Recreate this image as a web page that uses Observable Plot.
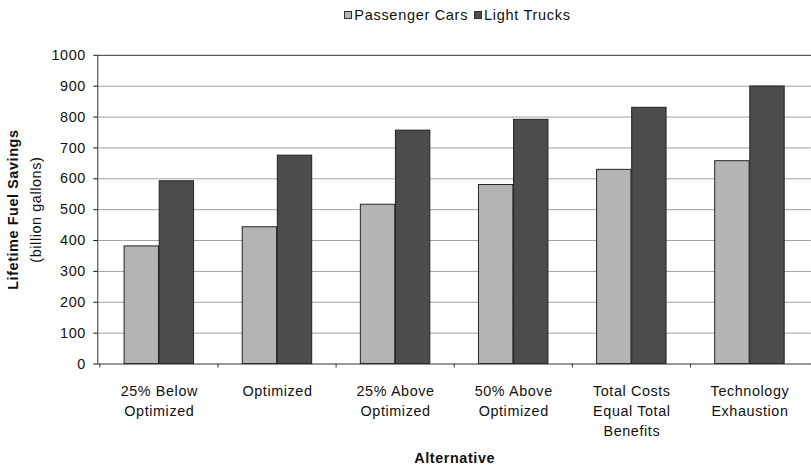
<!DOCTYPE html>
<html>
<head>
<meta charset="utf-8">
<script src="https://cdn.jsdelivr.net/npm/d3@7"></script>
<script src="https://cdn.jsdelivr.net/npm/@observablehq/plot@0.6"></script>
<style>
  html, body { margin: 0; padding: 0; background: #fff; overflow: hidden; width: 811px; height: 465px; }
  body { font-family: "Liberation Sans", Arial, sans-serif; color: #111; }
  #legend { height: 30px; display: flex; align-items: center; justify-content: center;
            width: 817px; box-sizing: border-box; padding-left: 98px; font-size: 14.5px; letter-spacing: 0.7px; }
  #legend .item { display: flex; align-items: center; margin: 0 3px; }
  #legend .sw { width: 6px; height: 6px; border: 1px solid #333; margin-right: 2px; }
</style>
</head>
<body>
<div id="legend"></div>
<div id="chart"></div>
<script>
const alternatives = [
  "25% Below\nOptimized",
  "Optimized",
  "25% Above\nOptimized",
  "50% Above\nOptimized",
  "Total Costs\nEqual Total\nBenefits",
  "Technology\nExhaustion"
];
const seriesNames = ["Passenger Cars", "Light Trucks"];
const seriesColors = ["#b4b4b4", "#4c4c4c"];
const passengerCars = [381, 443, 516, 580, 629, 657];
const lightTrucks = [592, 675, 756, 791, 830, 899];
const yTicks = [0, 100, 200, 300, 400, 500, 600, 700, 800, 900, 1000];

const carRows = alternatives.map((a, i) => ({alt: a, value: passengerCars[i]}));
const truckRows = alternatives.map((a, i) => ({alt: a, value: lightTrucks[i]}));

// legend
const legend = document.getElementById("legend");
seriesNames.forEach((name, i) => {
  const item = document.createElement("span");
  item.className = "item";
  const sw = document.createElement("span");
  sw.className = "sw";
  sw.style.background = seriesColors[i];
  item.appendChild(sw);
  item.appendChild(document.createTextNode(name));
  legend.appendChild(item);
});

const W = 817, mL = 98, mR = 0;
const step = (W - mL - mR) / alternatives.length;
const pInner = 0.41;
const half = (step * (1 - pInner)) / 2;
const fs = 14.5;

const chart = Plot.plot({
  width: W,
  height: 435,
  marginTop: 25,
  marginBottom: 99,
  marginLeft: mL,
  marginRight: mR,
  style: {fontFamily: "'Liberation Sans', Arial, sans-serif", fontSize: fs + "px", color: "#111", background: "#fff", letterSpacing: "0.6px", overflow: "visible"},
  x: {domain: alternatives, paddingInner: pInner, paddingOuter: pInner / 2, label: null},
  y: {domain: [0, 1000], label: null},
  marks: [
    Plot.ruleY(yTicks.filter(d => d > 0 && d < 1000), {stroke: "#a0a0a0", strokeWidth: 1}),
    Plot.barY(carRows, {x: "alt", y: "value", fill: seriesColors[0], stroke: "#222", strokeWidth: 1, insetRight: half}),
    Plot.barY(truckRows, {x: "alt", y: "value", fill: seriesColors[1], stroke: "#222", strokeWidth: 1, insetLeft: half}),
    Plot.frame({stroke: "#333", strokeWidth: 1}),
    Plot.ruleX(alternatives, {x: d => d, dx: -step / 2, y1: 0, y2: -13, stroke: "#333"}),
    Plot.axisY({ticks: yTicks, tickFormat: d => String(d), tickSize: 4, tickPadding: 8, label: null, fontSize: fs}),
    Plot.axisX({tickSize: 0, tickPadding: 18, lineHeight: 1.38, label: null, fontSize: fs}),
    Plot.text(["Lifetime Fuel Savings"], {frameAnchor: "left", textAnchor: "middle", lineAnchor: "middle", dx: -85, rotate: -90, fontWeight: "bold", fontSize: fs}),
    Plot.text(["(billion gallons)"], {frameAnchor: "left", textAnchor: "middle", lineAnchor: "middle", dx: -62, rotate: -90, fontSize: fs}),
    Plot.text(["Alternative"], {frameAnchor: "bottom", textAnchor: "middle", lineAnchor: "middle", dy: 95, fontWeight: "bold", fontSize: fs})
  ]
});
document.getElementById("chart").appendChild(chart);
</script>
</body>
</html>
